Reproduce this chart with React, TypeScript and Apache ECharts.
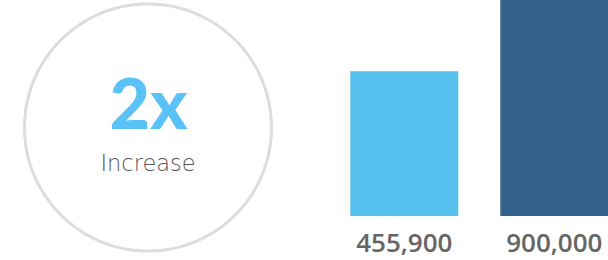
import React, { useEffect, useRef } from "react";
import * as echarts from "echarts";

const categories = ["Before", "After"];
const values = [455900, 900000];
const barColors = ["#56C1EE", "#33628C"];
const headline = "2x";
const subline = "Increase";

export default function App() {
  const ref = useRef<HTMLDivElement>(null);
  useEffect(() => {
    if (!ref.current) return;
    const chart = echarts.init(ref.current, undefined, { renderer: "svg" });
    chart.setOption({
      animation: false,
      grid: { left: 329.3, width: 300, top: 0, height: 216, outerBoundsMode: "none", containLabel: false },
      xAxis: {
        type: "category",
        data: categories,
        axisLine: { show: false },
        axisTick: { show: false },
        axisLabel: {
          margin: 13,
          fontFamily: "Open Sans",
          fontWeight: 600,
          fontSize: 26,
          lineHeight: 26,
          color: "#666666",
          formatter: (_v: string, i: number) => values[i].toLocaleString("en-US"),
        },
      },
      yAxis: { type: "value", min: 0, max: 680000, show: false, splitLine: { show: false } },
      series: [
        {
          type: "bar",
          barWidth: 108,
          clip: true,
          data: values.map((v, i) => ({ value: v, itemStyle: { color: barColors[i] } })),
        },
      ],
      graphic: [
        {
          type: "circle",
          shape: { cx: 148, cy: 127.5, r: 123.5 },
          style: { fill: "none", stroke: "#dddddd", lineWidth: 3 },
        },
        {
          type: "text",
          x: 148.5,
          y: 137,
          style: {
            text: headline,
            fontFamily: "Lato",
            fontWeight: 900,
            fontSize: 70,
            fill: "#5BC2F7",
            align: "center",
            verticalAlign: "bottom",
          },
        },
        {
          type: "text",
          x: 148,
          y: 163,
          style: {
            text: subline,
            fontFamily: "DejaVu Sans",
            fontWeight: 200,
            fontSize: 22.5,
            fill: "#555555",
            align: "center",
            verticalAlign: "middle",
          },
        },
      ],
    });
    return () => chart.dispose();
  }, []);
  return <div ref={ref} style={{ width: 608, height: 260, position: "absolute", left: 0, top: 0 }} />;
}
